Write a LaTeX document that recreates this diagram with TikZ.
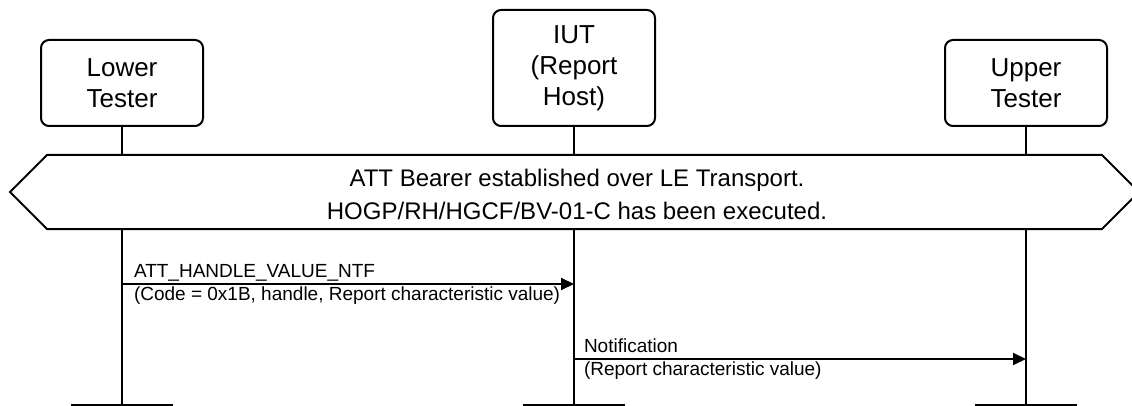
\documentclass[tikz,border=0pt]{standalone}
\usepackage{fontspec}
\setmainfont{Liberation Sans}
\usetikzlibrary{arrows.meta,positioning}

\begin{document}
\begin{tikzpicture}[
    x=1pt, y=-1pt,
    line width=2pt,
    entity/.style={draw, rounded corners=8pt, minimum width=162pt,
      align=center, font=\fontsize{26}{31}\selectfont},
    msg/.style={-{Triangle[length=13pt,width=12pt]}},
    lbl/.style={font=\fontsize{19}{20}\selectfont, inner sep=0pt},
    endbar/.style={line width=1.5pt},
  ]
  \useasboundingbox (0,0) rectangle (1132,406);

  % Teilnehmer
  \node[entity, minimum height=86pt]  (lt)  at (122,83) {Lower\\Tester};
  \node[entity, minimum height=116pt] (iut) at (574,68) {IUT\\(Report\\Host)};
  \node[entity, minimum height=86pt]  (ut)  at (1026,83) {Upper\\Tester};

  % Vorbedingung (Sechseck)
  \coordinate (hextop) at (0,155);
  \coordinate (hexbot) at (0,229);
  \coordinate (bottom) at (0,405);
  \draw (10,192) -- (47,155) -- (1102,155) -- (1139,192)
    -- (1102,229) -- (47,229) -- cycle;
  \node[font=\fontsize{24}{33}\selectfont, align=center] (pre) at (577,194)
    {ATT Bearer established over LE Transport.\\
     HOGP/RH/HGCF/BV-01-C has been executed.};

  % Lebenslinien
  \foreach \n in {lt,iut,ut} {
    \draw (\n.south) -- (\n.south |- hextop);
    \draw (\n.south |- hexbot) -- (\n.south |- bottom);
    \coordinate (\n end) at (\n.south |- bottom);
    \draw[endbar] ([xshift=-51pt]\n end) -- ([xshift=51pt]\n end);
  }

  % Nachrichten
  \coordinate (m1) at (0,284);
  \coordinate (m2) at (0,359);
  \draw[msg] (lt.south |- m1) coordinate (m1a) -- (iut.south |- m1);
  \node[lbl, anchor=base west] (m1up) at ([shift={(11,-7)}]m1a) {ATT\_HANDLE\_VALUE\_NTF};
  \node[lbl, anchor=base west] (m1dn) at ([shift={(11,16)}]m1a)
    {(Code = 0x1B, handle, Report characteristic value)};

  \draw[msg] (iut.south |- m2) coordinate (m2a) -- (ut.south |- m2);
  \node[lbl, anchor=base west] (m2up) at ([shift={(9,-7)}]m2a) {Notification};
  \node[lbl, anchor=base west] (m2dn) at ([shift={(9,16)}]m2a)
    {(Report characteristic value)};
\end{tikzpicture}
\end{document}
